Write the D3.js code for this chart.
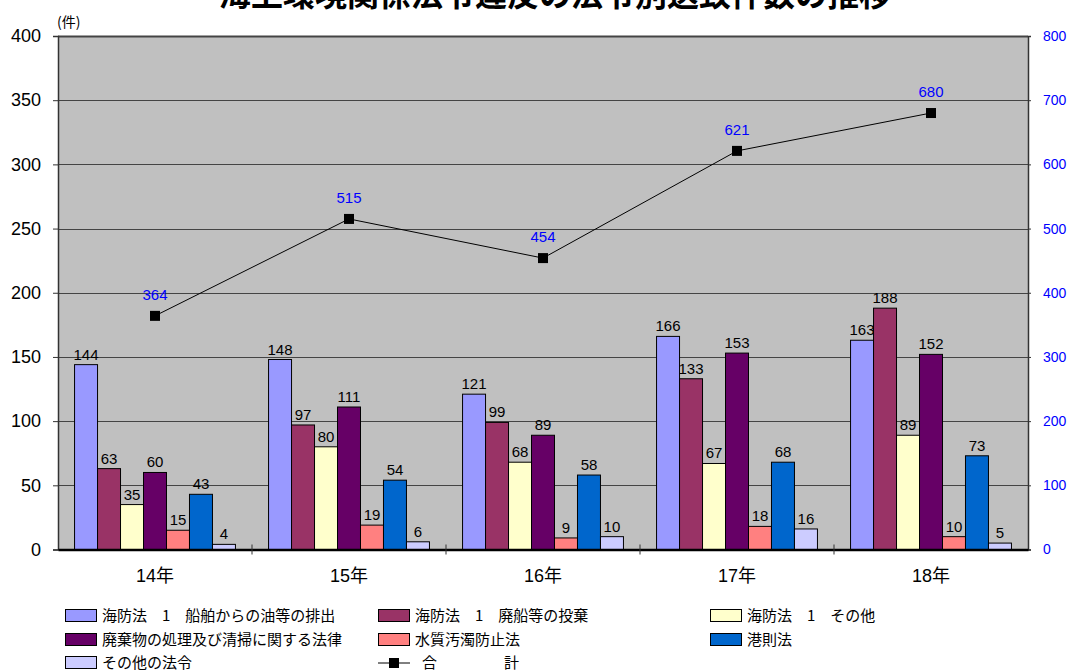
<!DOCTYPE html>
<html>
<head>
<meta charset="utf-8">
<script src="https://cdn.jsdelivr.net/npm/d3@7/dist/d3.min.js"></script>
<style>
  html, body { margin: 0; padding: 0; background: #fff; }
  svg { display: block; font-family: "Liberation Sans", Arial, "Noto Sans CJK JP", sans-serif; }
</style>
</head>
<body>
<svg id="chart" width="1069" height="671"></svg>
<script>
// Fiscal years (Heisei)
const categories = ["14年", "15年", "16年", "17年", "18年"];

// Violations by law (件)
const seriesNames = [
  "海防法　1　船舶からの油等の排出",
  "海防法　1　廃船等の投棄",
  "海防法　1　その他",
  "廃棄物の処理及び清掃に関する法律",
  "水質汚濁防止法",
  "港則法",
  "その他の法令"
];
const oilDischarge   = [144, 148, 121, 166, 163];
const shipDumping    = [63, 97, 99, 133, 188];
const marineOther    = [35, 80, 68, 67, 89];
const wasteLaw       = [60, 111, 89, 153, 152];
const waterPollution = [15, 19, 9, 18, 10];
const portLaw        = [43, 54, 58, 68, 73];
const otherLaws      = [4, 6, 10, 16, 5];
const totals         = [364, 515, 454, 621, 680];

const leftTicks  = [0, 50, 100, 150, 200, 250, 300, 350, 400];
const rightTicks = [0, 100, 200, 300, 400, 500, 600, 700, 800];

const seriesValues = [oilDischarge, shipDumping, marineOther, wasteLaw, waterPollution, portLaw, otherLaws];
const colors = ["#9999ff", "#993366", "#ffffcc", "#660066", "#ff8080", "#0066cc", "#ccccff"];

const svg = d3.select("#chart");
const plot = { left: 58, right: 1028, top: 36, bottom: 549.5 };

// Title (runs off the top edge of the page)
svg.append("text")
  .attr("x", 555).attr("y", 6)
  .attr("text-anchor", "middle")
  .attr("font-size", 32).attr("font-weight", "bold")
  .attr("font-family", "'Noto Sans CJK JP', sans-serif")
  .text("海上環境関係法令違反の法令別送致件数の推移");

const x0 = d3.scaleBand().domain(categories).range([plot.left, plot.right]).paddingInner(0).paddingOuter(0);
const x1 = d3.scaleBand().domain(d3.range(seriesNames.length)).range([0, x0.bandwidth()])
  .paddingInner(0).paddingOuter(0.72);
const yL = d3.scaleLinear().domain([0, 400]).range([plot.bottom, plot.top]);
const yR = d3.scaleLinear().domain([0, 800]).range([plot.bottom, plot.top]);

// Plot background
svg.append("rect")
  .attr("x", plot.left).attr("y", plot.top)
  .attr("width", plot.right - plot.left).attr("height", plot.bottom - plot.top)
  .attr("fill", "#c0c0c0");

// Gridlines
svg.append("g").selectAll("line").data(leftTicks.filter(d => d > 0)).join("line")
  .attr("x1", plot.left).attr("x2", plot.right)
  .attr("y1", d => Math.round(yL(d)) + 0.5).attr("y2", d => Math.round(yL(d)) + 0.5)
  .attr("stroke", "#444").attr("stroke-width", d => d === 400 ? 2 : 1);

// Bars
const groups = svg.append("g").selectAll("g").data(categories).join("g")
  .attr("transform", d => `translate(${x0(d)},0)`);

groups.each(function(cat, ci) {
  const g = d3.select(this);
  seriesValues.forEach((vals, si) => {
    const v = vals[ci];
    g.append("rect")
      .attr("x", x1(si)).attr("y", yL(v))
      .attr("width", x1.bandwidth()).attr("height", yL(0) - yL(v))
      .attr("fill", colors[si]).attr("stroke", "#000").attr("stroke-width", 1);
    g.append("text")
      .attr("x", x1(si) + x1.bandwidth() / 2).attr("y", yL(v) - 5)
      .attr("text-anchor", "middle").attr("font-size", 15).attr("fill", "#000")
      .text(v);
  });
});

// Axes
const leftAxis = d3.axisLeft(yL).tickValues(leftTicks).tickSize(5).tickPadding(12);
const gL = svg.append("g").attr("transform", `translate(${plot.left},0)`).call(leftAxis);
gL.select(".domain").attr("stroke", "#333").attr("stroke-width", 1.5);
gL.selectAll(".tick line").attr("stroke", "#333");
gL.selectAll(".tick text").attr("font-size", 18).attr("fill", "#000")
  .attr("font-family", "'Liberation Sans Narrow', 'Liberation Sans', Arial, sans-serif");

const rightAxis = d3.axisRight(yR).tickValues(rightTicks).tickSize(3).tickPadding(12);
const gR = svg.append("g").attr("transform", `translate(${plot.right},0)`).call(rightAxis);
gR.select(".domain").attr("stroke", "#333").attr("stroke-width", 1.5);
gR.selectAll(".tick line").attr("stroke", "#333");
gR.selectAll(".tick text").attr("font-size", 14).attr("fill", "#0000ff");

const bottomAxis = d3.axisBottom(x0).tickSize(0).tickPadding(20);
const gB = svg.append("g").attr("transform", `translate(0,${plot.bottom})`).call(bottomAxis);
gB.select(".domain").attr("stroke", "#000").attr("stroke-width", 2.5);
gB.selectAll(".tick text").attr("font-size", 18).attr("fill", "#000")
  .attr("font-family", "'Liberation Sans Narrow', 'Liberation Sans', 'Noto Sans CJK JP', sans-serif");
// Category boundary ticks
svg.append("g").selectAll("line").data(categories.slice(1)).join("line")
  .attr("x1", d => x0(d)).attr("x2", d => x0(d))
  .attr("y1", plot.bottom - 5).attr("y2", plot.bottom + 5)
  .attr("stroke", "#333");

// Unit label
svg.append("text").attr("x", 57).attr("y", 27).attr("font-size", 14)
  .attr("font-family", "'Noto Sans CJK JP', sans-serif").text("(件)");

// Total line
const cx = d => x0(d) + x0.bandwidth() / 2;
const line = d3.line().x((d, i) => cx(categories[i])).y(d => yR(d));
svg.append("path").datum(totals).attr("d", line)
  .attr("fill", "none").attr("stroke", "#000").attr("stroke-width", 1);
svg.append("g").selectAll("rect").data(totals).join("rect")
  .attr("x", (d, i) => cx(categories[i]) - 5).attr("y", d => yR(d) - 5)
  .attr("width", 10).attr("height", 10).attr("fill", "#000");
svg.append("g").selectAll("text").data(totals).join("text")
  .attr("x", (d, i) => cx(categories[i])).attr("y", d => yR(d) - 16)
  .attr("text-anchor", "middle").attr("font-size", 15).attr("fill", "#0000ff")
  .text(d => d);

// Legend
const legendCols = [65, 378, 710];
const legendRows = [616, 640, 663];
const legend = svg.append("g").attr("font-size", 15)
  .attr("font-family", "'Noto Sans CJK JP', sans-serif");
seriesNames.forEach((name, i) => {
  const lx = legendCols[i % 3], ly = legendRows[Math.floor(i / 3)];
  legend.append("rect").attr("x", lx + 0.5).attr("y", ly - 6.5).attr("width", 31).attr("height", 12)
    .attr("fill", colors[i]).attr("stroke", "#000").attr("stroke-width", 1);
  legend.append("text").attr("x", lx + 37).attr("y", ly + 5).text(name);
});
{
  const lx = legendCols[1], ly = legendRows[2];
  legend.append("line").attr("x1", lx).attr("x2", lx + 32).attr("y1", ly).attr("y2", ly)
    .attr("stroke", "#000").attr("stroke-width", 1);
  legend.append("rect").attr("x", lx + 11).attr("y", ly - 5).attr("width", 10).attr("height", 10).attr("fill", "#000");
  legend.append("text").attr("x", lx + 44).attr("y", ly + 5).text("合");
  legend.append("text").attr("x", lx + 126).attr("y", ly + 5).text("計");
}
</script>
</body>
</html>
